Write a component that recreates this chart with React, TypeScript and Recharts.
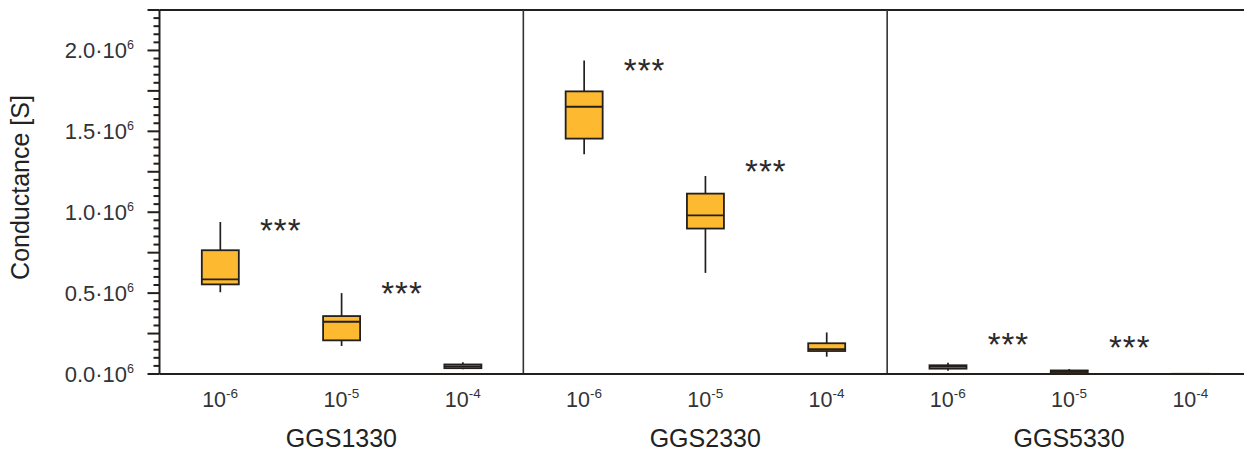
import { Bar, ComposedChart, Label, ReferenceLine, Scatter, XAxis, YAxis } from "recharts"

const FONT = "'Liberation Sans', Arial, sans-serif"
const BOX_FILL = "#FDBA30"
const INK = "#231f1c"

// one slot per box, three concentrations per sensor
const positions = [0.5, 1.5, 2.5, 3.5, 4.5, 5.5, 6.5, 7.5, 8.5]
const exponents = ["-6", "-5", "-4", "-6", "-5", "-4", "-6", "-5", "-4"]

const groupNames = ["GGS1330", "GGS2330", "GGS5330"]
const groupCenters = [1.5, 4.5, 7.5]
const separators = [3, 6]

// box plot statistics in S
const whiskerLow = [505000, 173000, 29000, 1358000, 625000, 107000, 20000, 2000, 500]
const quartile1 = [554000, 208000, 36000, 1455000, 899000, 142000, 33000, 5000, 800]
const medians = [585000, 323000, 47000, 1652000, 980000, 154000, 45000, 13000, 1000]
const quartile3 = [765000, 358000, 59000, 1747000, 1115000, 190000, 54000, 22000, 1200]
const whiskerHigh = [940000, 500000, 72000, 1938000, 1224000, 257000, 70000, 31000, 1500]

// significance marks between neighbouring concentrations
const starPositions = [1, 2, 4, 5, 7, 8]
const starValues = [932000, 543000, 1923000, 1302000, 230000, 210000]

const yMax = 2250000
const yLabelTicks = [0, 500000, 1000000, 1500000, 2000000]
const yLabelTexts = ["0.0", "0.5", "1.0", "1.5", "2.0"]
const yAllTicks = Array.from({ length: 46 }, (_, i) => i * 50000)

const boxData = positions.map((pos, i) => ({
  pos,
  exp: exponents[i],
  lo: whiskerLow[i],
  q1: quartile1[i],
  med: medians[i],
  q3: quartile3[i],
  hi: whiskerHigh[i],
  range: [whiskerLow[i], whiskerHigh[i]],
}))

const starData = starPositions.map((pos, i) => ({ pos, val: starValues[i] }))

const BoxShape = (props: any) => {
  const { x, y, width, height, payload } = props
  if (!payload) return null
  const top = Math.min(y, y + height)
  const h = Math.abs(height)
  const span = payload.hi - payload.lo || 1
  const toY = (v: number) => top + (h * (payload.hi - v)) / span
  const cx = x + width / 2
  const yHi = toY(payload.hi)
  const yQ3 = toY(payload.q3)
  const yMed = toY(payload.med)
  const yQ1 = toY(payload.q1)
  const yLo = toY(payload.lo)
  return (
    <g>
      <line x1={cx} x2={cx} y1={yHi} y2={yQ3} stroke={INK} strokeWidth={1.7} />
      <line x1={cx} x2={cx} y1={yQ1} y2={yLo} stroke={INK} strokeWidth={1.7} />
      <rect x={x} y={yQ3} width={width} height={Math.max(yQ1 - yQ3, 0.5)} fill={BOX_FILL} stroke={INK} strokeWidth={1.8} />
      <line x1={x} x2={x + width} y1={yMed} y2={yMed} stroke={INK} strokeWidth={1.8} />
    </g>
  )
}

const StarShape = (props: any) => {
  const { cx, cy } = props
  return (
    <text x={cx} y={cy} dy="0.58em" textAnchor="middle" fontFamily={FONT} fontSize={33} letterSpacing={1} fill="#2a2a2a">
      ***
    </text>
  )
}

const YTick = (props: any) => {
  const { x, y, payload } = props
  const v = payload.value
  const long = v % 250000 === 0
  const idx = yLabelTicks.indexOf(v)
  return (
    <g>
      <line x1={x - (long ? 12 : 6)} x2={x} y1={y} y2={y} stroke={INK} strokeWidth={2} />
      {idx >= 0 && (
        <text x={x - 25.5} y={y} dy={7.5} textAnchor="end" fontFamily={FONT} fontSize={22} fill="#333">
          {yLabelTexts[idx]}·10
          <tspan fontSize={12.5} dy={-8.5}>
            6
          </tspan>
        </text>
      )}
    </g>
  )
}

// concentration label, plus the sensor name under the middle box of each panel
const XTick = (props: any) => {
  const { x, y, payload } = props
  const idx = positions.indexOf(payload.value)
  const groupIdx = groupCenters.indexOf(payload.value)
  return (
    <g>
      <text x={x} y={y} dy={32.5} textAnchor="middle" fontFamily={FONT} fontSize={21.5} fill="#333">
        10
        <tspan fontSize={13.5} dy={-9}>
          {exponents[idx]}
        </tspan>
      </text>
      {groupIdx >= 0 && (
        <text x={x} y={y} dy={73.3} textAnchor="middle" fontFamily={FONT} fontSize={25} fill="#222">
          {groupNames[groupIdx]}
        </text>
      )}
    </g>
  )
}

export default function App() {
  return (
    <div style={{ marginLeft: -8, marginTop: -8, width: 1252, height: 454, background: "#fff" }}>
      <ComposedChart width={1252} height={454} data={boxData} margin={{ top: 10, right: 1, bottom: 0, left: 0 }}>
        <XAxis
          dataKey="pos"
          type="number"
          domain={[0, 9]}
          ticks={positions}
          interval={0}
          allowDataOverflow
          tick={<XTick />}
          tickLine={false}
          tickSize={0}
          tickMargin={0}
          height={80}
          axisLine={{ stroke: INK, strokeWidth: 2 }}
        />
        <YAxis
          type="number"
          domain={[0, yMax]}
          ticks={yAllTicks}
          interval={0}
          allowDataOverflow
          width={159.5}
          tick={<YTick />}
          tickLine={false}
          tickSize={0}
          tickMargin={0}
          axisLine={{ stroke: INK, strokeWidth: 2 }}
        >
          <Label
            content={(p: any) => {
              const vb = p.viewBox || { x: 0, y: 10, height: 364 }
              return (
                <text
                  transform={`translate(${vb.x + 29},${vb.y + vb.height / 2 - 4.5}) rotate(-90)`}
                  textAnchor="middle"
                  fontFamily={FONT}
                  fontSize={25}
                  fill="#222"
                >
                  Conductance [S]
                </text>
              )
            }}
          />
        </YAxis>
        <ReferenceLine y={yMax} stroke={INK} strokeWidth={2} />
        {separators.map((s) => (
          <ReferenceLine key={s} x={s} stroke="#333" strokeWidth={1.6} />
        ))}
        <ReferenceLine x={9} stroke="#c8c8c8" strokeWidth={1} />
        <Bar dataKey="range" barSize={37} shape={<BoxShape />} isAnimationActive={false} />
        <Scatter data={starData} dataKey="val" shape={<StarShape />} isAnimationActive={false} />
      </ComposedChart>
    </div>
  )
}
